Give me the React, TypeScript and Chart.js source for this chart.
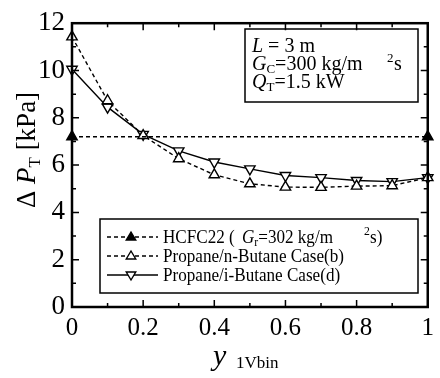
import React, { useEffect, useRef } from 'react';
import { Chart, registerables } from 'chart.js';
Chart.register(...registerables);

const xValues = [0, 0.1, 0.2, 0.3, 0.4, 0.5, 0.6, 0.7, 0.8, 0.9, 1.0];
const nButane = [11.42, 8.72, 7.25, 6.27, 5.59, 5.21, 5.07, 5.06, 5.11, 5.13, 5.47];
const iButane = [10.05, 8.45, 7.3, 6.6, 6.13, 5.84, 5.56, 5.47, 5.35, 5.3, 5.47];
const hcfcX = [0, 1];
const hcfcY = [7.2, 7.2];
const xTicks = [0, 0.2, 0.4, 0.6, 0.8, 1];
const yTicks = [0, 2, 4, 6, 8, 10, 12];
const xMinor = [0.1, 0.3, 0.5, 0.7, 0.9];
const yMinor = [1, 3, 5, 7, 9, 11];
const labels = [
  'HCFC22 (',
  'Propane/n-Butane Case(b)',
  'Propane/i-Butane Case(d)',
];

const FONT = '"Liberation Serif", "Times New Roman", serif';

type Run = { t: string; size: number; italic?: boolean; dy?: number; x?: number };

function drawRuns(ctx: CanvasRenderingContext2D, runs: Run[], x: number, y: number, sx = 1) {
  let cx = x;
  for (const r of runs) {
    if (r.x !== undefined) cx = r.x;
    ctx.font = `${r.italic ? 'italic ' : ''}${r.size}px ${FONT}`;
    ctx.save();
    ctx.translate(cx, y + (r.dy || 0));
    ctx.scale(sx, 1);
    ctx.fillText(r.t, 0, 0);
    ctx.restore();
    cx += ctx.measureText(r.t).width * sx;
  }
  return cx;
}

function runsWidth(ctx: CanvasRenderingContext2D, runs: Run[]) {
  let w = 0;
  for (const r of runs) {
    ctx.font = `${r.italic ? 'italic ' : ''}${r.size}px ${FONT}`;
    w += ctx.measureText(r.t).width;
  }
  return w;
}

function tri(ctx: CanvasRenderingContext2D, x: number, y: number, r: number, down: boolean, fill: string) {
  ctx.beginPath();
  const s = down ? -1 : 1;
  ctx.moveTo(x, y - s * r);
  ctx.lineTo(x + r * 0.95, y + s * r * 0.6);
  ctx.lineTo(x - r * 0.95, y + s * r * 0.6);
  ctx.closePath();
  ctx.fillStyle = fill;
  ctx.fill();
  ctx.lineWidth = 1.4;
  ctx.strokeStyle = '#000';
  ctx.stroke();
}

const decor = {
  id: 'decor',
  afterDraw(chart: any) {
    const { ctx, chartArea: a, scales } = chart;
    const xs = scales.x;
    const ys = scales.y;
    ctx.save();
    ctx.strokeStyle = '#000';
    ctx.fillStyle = '#000';
    // frame
    ctx.lineWidth = 2.5;
    ctx.strokeRect(a.left, a.top, a.right - a.left, a.bottom - a.top);
    // inward ticks
    ctx.lineWidth = 1.5;
    ctx.beginPath();
    const xt = (v: number, len: number) => {
      const px = xs.getPixelForValue(v);
      ctx.moveTo(px, a.bottom);
      ctx.lineTo(px, a.bottom - len);
      ctx.moveTo(px, a.top);
      ctx.lineTo(px, a.top + len);
    };
    const yt = (v: number, len: number) => {
      const py = ys.getPixelForValue(v);
      ctx.moveTo(a.left, py);
      ctx.lineTo(a.left + len, py);
      ctx.moveTo(a.right, py);
      ctx.lineTo(a.right - len, py);
    };
    xTicks.forEach((v) => xt(v, 7));
    xMinor.forEach((v) => xt(v, 4));
    yTicks.forEach((v) => yt(v, 7));
    yMinor.forEach((v) => yt(v, 4));
    ctx.stroke();

    ctx.textBaseline = 'alphabetic';
    ctx.textAlign = 'left';

    // y-axis title (rotated)
    const yRuns: Run[] = [
      { t: 'Δ ', size: 27 },
      { t: 'P', size: 27, italic: true },
      { t: 'T', size: 17, dy: 5 },
      { t: ' [kPa]', size: 27 },
    ];
    ctx.save();
    ctx.translate(35, 150);
    ctx.rotate(-Math.PI / 2);
    const yw = runsWidth(ctx, yRuns);
    drawRuns(ctx, yRuns, -yw / 2, 0);
    ctx.restore();

    // x-axis title
    drawRuns(ctx, [
      { t: 'y', size: 30, italic: true },
      { t: '1Vbin', size: 17, dy: 3, x: 236 },
    ], 213, 365);

    // info box
    ctx.lineWidth = 1.5;
    ctx.strokeRect(245, 29, 173, 73);
    drawRuns(ctx, [{ t: 'L', size: 20, italic: true }, { t: ' = 3 m', size: 20 }], 252, 52);
    drawRuns(ctx, [
      { t: 'G', size: 20, italic: true },
      { t: 'C', size: 13, dy: 3 },
      { t: '=300 kg/m', size: 20 },
      { t: '2', size: 13, dy: -8, x: 387 },
      { t: 's', size: 20, x: 394 },
    ], 252, 70);
    drawRuns(ctx, [
      { t: 'Q', size: 20, italic: true },
      { t: 'T', size: 13, dy: 3 },
      { t: '=1.5 kW', size: 20 },
    ], 252, 88);

    // legend box
    ctx.lineWidth = 1.5;
    ctx.strokeRect(100, 219, 318, 74);
    const rows = [243, 262, 281];
    const styles = [
      { dash: [4, 3], fill: '#000', down: false },
      { dash: [4, 3], fill: '#fff', down: false },
      { dash: [], fill: '#fff', down: true },
    ];
    rows.forEach((by, i) => {
      const cy = by - 6;
      ctx.lineWidth = 1.3;
      ctx.setLineDash(styles[i].dash);
      ctx.beginPath();
      ctx.moveTo(107, cy);
      ctx.lineTo(158, cy);
      ctx.stroke();
      ctx.setLineDash([]);
      tri(ctx, 131, cy, 5, styles[i].down, styles[i].fill);
      ctx.fillStyle = '#000';
    });
    const sx = 0.9;
    drawRuns(ctx, [
      { t: labels[0], size: 19 },
      { t: 'G', size: 19, italic: true, x: 242 },
      { t: 'r', size: 13, dy: 3 },
      { t: '=302 kg/m', size: 19 },
      { t: '2', size: 13, dy: -8, x: 364 },
      { t: 's)', size: 19, x: 370 },
    ], 163, rows[0], sx);
    drawRuns(ctx, [{ t: labels[1], size: 19 }], 163, rows[1], sx);
    drawRuns(ctx, [{ t: labels[2], size: 19 }], 163, rows[2], sx);

    ctx.restore();
  },
};

export default function App() {
  const ref = useRef<HTMLCanvasElement>(null);
  useEffect(() => {
    if (!ref.current) return;
    const common = {
      borderColor: '#000',
      borderWidth: 1.4,
      pointStyle: 'triangle',
      pointRadius: 6,
      pointBorderColor: '#000',
      pointBorderWidth: 1.4,
      clip: false,
      tension: 0,
    };
    const chart = new Chart(ref.current, {
      type: 'line',
      data: {
        datasets: [
          {
            ...common,
            label: 'HCFC22',
            data: hcfcX.map((x, i) => ({ x, y: hcfcY[i] })),
            borderDash: [4, 3],
            pointBackgroundColor: '#000',
          },
          {
            ...common,
            label: labels[1],
            data: xValues.map((x, i) => ({ x, y: nButane[i] })),
            borderDash: [4, 3],
            pointBackgroundColor: '#fff',
          },
          {
            ...common,
            label: labels[2],
            data: xValues.map((x, i) => ({ x, y: iButane[i] })),
            pointBackgroundColor: '#fff',
            pointRotation: 180,
          },
        ],
      } as any,
      options: {
        responsive: false,
        animation: false,
        layout: { padding: { top: 13, right: 8, left: 0, bottom: 0 } },
        plugins: { legend: { display: false }, tooltip: { enabled: false }, title: { display: false } },
        scales: {
          x: {
            type: 'linear',
            min: 0,
            max: 1,
            afterFit: (s: any) => { s.height = 71; },
            afterBuildTicks: (s: any) => { s.ticks = xTicks.map((v) => ({ value: v })); },
            grid: { display: false, drawTicks: false },
            border: { display: false },
            ticks: {
              color: '#000',
              padding: 6,
              maxRotation: 0,
              autoSkip: false,
              font: { family: FONT, size: 25 },
              callback: (v: any) => (v === 0 || v === 1 ? String(v) : Number(v).toFixed(1)),
            },
          },
          y: {
            type: 'linear',
            min: 0,
            max: 12,
            afterFit: (s: any) => { s.width = 72; },
            afterBuildTicks: (s: any) => { s.ticks = yTicks.map((v) => ({ value: v })); },
            grid: { display: false, drawTicks: false },
            border: { display: false },
            ticks: {
              color: '#000',
              padding: 7,
              autoSkip: false,
              font: { family: FONT, size: 27 },
            },
          },
        },
      } as any,
      plugins: [decor],
    });
    return () => chart.destroy();
  }, []);
  return (
    <div style={{ position: 'fixed', left: 0, top: 0, width: 440, height: 378, background: '#fff' }}>
      <canvas ref={ref} width={440} height={378} style={{ display: 'block' }} />
    </div>
  );
}
